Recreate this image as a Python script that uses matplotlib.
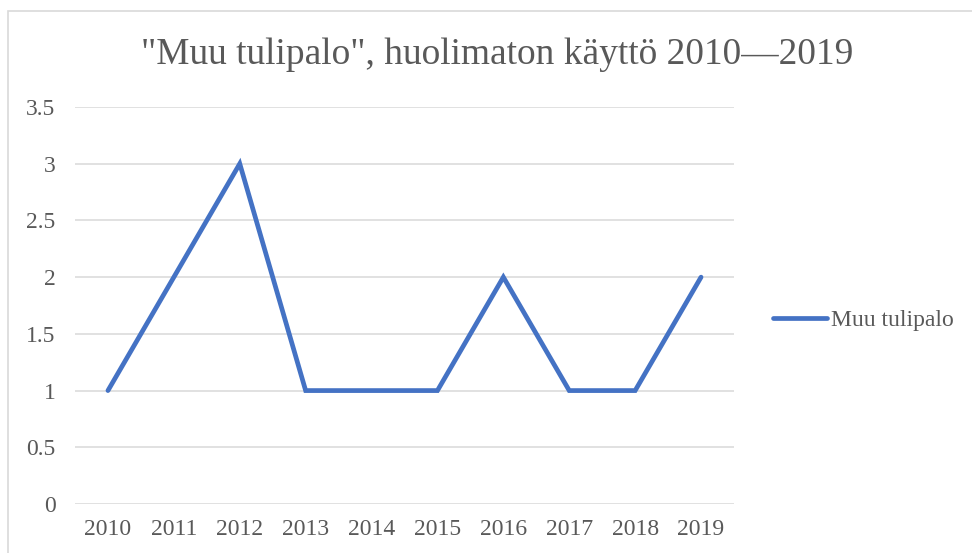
import matplotlib.pyplot as plt
from matplotlib.patches import Rectangle

# data
vuodet = ["2010", "2011", "2012", "2013", "2014", "2015", "2016", "2017", "2018", "2019"]
tulipalot = [1, 2, 3, 1, 1, 1, 2, 1, 1, 2]
y_ticks = [0, 0.5, 1, 1.5, 2, 2.5, 3, 3.5]
y_labels = ["0", "0.5", "1", "1.5", "2", "2.5", "3", "3.5"]

W, H = 972, 553
plt.rcParams['font.family'] = ['Liberation Serif', 'DejaVu Serif']
text_col = '#595959'

fig = plt.figure(figsize=(W / 100, H / 100), dpi=100)
fig.patches.append(Rectangle((8 / W, -0.1), 1.2, 1 - 11 / H + 0.1, transform=fig.transFigure,
                             fill=False, edgecolor='#d9d9d9', linewidth=1.2))

ax = fig.add_axes([75 / W, 1 - 504 / H, (734 - 75) / W, (504 - 107) / H])
x = range(len(vuodet))
ax.plot(x, tulipalot, color='#4472C4', linewidth=3.4, solid_capstyle='round',
        solid_joinstyle='miter', label='Muu tulipalo')

ax.set_xlim(-0.5, len(vuodet) - 0.5)
ax.set_ylim(0, 3.5)
ax.set_xticks(list(x))
ax.set_xticklabels(vuodet)
ax.set_yticks(y_ticks)
ax.set_yticklabels(y_labels)
ax.tick_params(axis='both', length=0, labelsize=17, labelcolor=text_col)
ax.tick_params(axis='y', pad=14)
ax.tick_params(axis='x', pad=11)
ax.grid(axis='y', color='#d9d9d9', linewidth=1.1)
ax.set_axisbelow(True)
for s in ax.spines.values():
    s.set_visible(False)

fig.text(497 / W, 1 - 55 / H, '"Muu tulipalo", huolimaton käyttö 2010\u20142019',
         ha='center', va='center', fontsize=26.9, color=text_col)

leg = ax.legend(loc='center left', bbox_to_anchor=(773 / W, 1 - 320 / H),
                bbox_transform=fig.transFigure, frameon=False, fontsize=17,
                handlelength=2.3, handletextpad=0.15, borderpad=0, borderaxespad=0)
for t in leg.get_texts():
    t.set_color(text_col)

fig.savefig('out.png', dpi=100)
